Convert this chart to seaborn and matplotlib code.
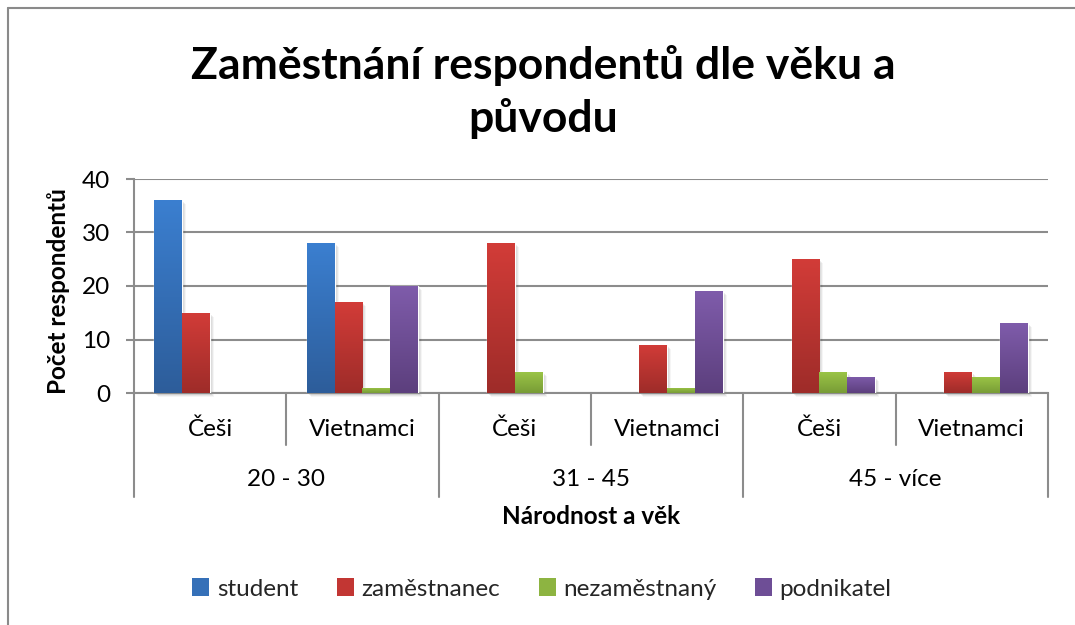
import numpy as np
import pandas as pd
import matplotlib
matplotlib.use("Agg")
import matplotlib.pyplot as plt
import seaborn as sns
import matplotlib.transforms as mtransforms
from matplotlib.patches import Patch, Rectangle
from matplotlib.lines import Line2D
from matplotlib.colors import LinearSegmentedColormap

# ---------------- data ----------------
age_groups = ["20 - 30", "31 - 45", "45 - více"]
nationalities = ["Češi", "Vietnamci"]
series = ["student", "zaměstnanec", "nezaměstnaný", "podnikatel"]
student = [36, 28, 0, 0, 0, 0]
zamestnanec = [15, 17, 28, 9, 25, 4]
nezamestnany = [0, 1, 4, 1, 4, 3]
podnikatel = [0, 20, 0, 19, 3, 13]
y_ticks = [0, 10, 20, 30, 40]

title = "Zaměstnání respondentů dle věku a\npůvodu"
x_title = "Národnost a věk"
y_title = "Počet respondentů"

top_colors = ["#3B7FD0", "#D23C38", "#9CC647", "#7F5CAB"]
bottom_colors = ["#2D5D9A", "#9E2C29", "#789C36", "#5C3F7D"]
legend_colors = ["#3570B8", "#C23633", "#8DB441", "#6E4E96"]

# ---------------- dataframe ----------------
cats = [f"{a}|{n}" for a in age_groups for n in nationalities]
values = {"student": student, "zaměstnanec": zamestnanec,
          "nezaměstnaný": nezamestnany, "podnikatel": podnikatel}
rows = []
for s in series:
    for c, v in zip(cats, values[s]):
        rows.append({"cat": c, "series": s, "value": v})
df = pd.DataFrame(rows)

# ---------------- figure ----------------
sns.set_theme(style="white")
plt.rcParams["font.family"] = ["Lato", "DejaVu Sans"]

W, H = 1075, 625
fig = plt.figure(figsize=(W / 100, H / 100), dpi=100)
ax_left, ax_right, ax_top, ax_bottom = 134, 1048, 179, 393
ax = fig.add_axes([ax_left / W, 1 - ax_bottom / H,
                   (ax_right - ax_left) / W, (ax_bottom - ax_top) / H])

sns.barplot(data=df, x="cat", y="value", hue="series", order=cats,
            hue_order=series, palette=top_colors, width=0.735,
            saturation=1, errorbar=None, legend=False, ax=ax, zorder=3)

# gradient fill + soft shadow
for i, container in enumerate(ax.containers):
    cmap = LinearSegmentedColormap.from_list(f"g{i}", [bottom_colors[i], top_colors[i]])
    for bar in container:
        h = bar.get_height()
        if h <= 0:
            bar.set_visible(False)
            continue
        x0, y0, w = bar.get_x(), bar.get_y(), bar.get_width()
        for k, a in zip([1, 2, 3, 4], [0.10, 0.08, 0.06, 0.04]):
            tr = ax.transData + mtransforms.ScaledTranslation(k / 100, -k / 100, fig.dpi_scale_trans)
            ax.add_patch(Rectangle((x0, y0), w, h, transform=tr, facecolor="#000000",
                                   alpha=a, edgecolor="none", zorder=2, clip_on=False))
        grad = np.linspace(0, 1, 256).reshape(-1, 1)
        im = ax.imshow(grad, extent=[x0, x0 + w, y0, y0 + h], origin="lower",
                       cmap=cmap, aspect="auto", zorder=3.5, interpolation="bilinear")
        im.set_clip_path(bar)

ax.set_xlim(-0.5, len(cats) - 0.5)
ax.set_ylim(0, 40)
ax.set_yticks(y_ticks)
ax.set_xticks([])
ax.set_xlabel("")
ax.set_ylabel("")

grid_color = "#8C8C8C"
ax.yaxis.grid(True, color=grid_color, linewidth=1.5)
ax.set_axisbelow(True)
for side in ["top", "right"]:
    ax.spines[side].set_visible(False)
for side in ["left", "bottom"]:
    ax.spines[side].set_color(grid_color)
    ax.spines[side].set_linewidth(1.5)
ax.tick_params(axis="y", direction="out", length=6, width=1.5, color=grid_color,
               labelsize=17.5, labelcolor="black", pad=11, left=True)

# multi-level category axis
blend = mtransforms.blended_transform_factory(ax.transData, ax.transAxes)
ax_h = ax_bottom - ax_top
lvl1 = -(445 - ax_bottom) / ax_h
lvl2 = -(497 - ax_bottom) / ax_h
n = len(cats)
for b in range(n + 1):
    xb = b - 0.5
    y_end = lvl2 if b % len(nationalities) == 0 else lvl1
    ax.add_line(Line2D([xb, xb], [0, y_end], transform=blend, color=grid_color,
                       linewidth=1.5, clip_on=False))
for i, c in enumerate(cats):
    nat = c.split("|")[1]
    ax.text(i, -(429 - ax_bottom) / ax_h, nat, transform=blend, ha="center",
            va="center", fontsize=17.5, color="black")
for g, a in enumerate(age_groups):
    xc = g * len(nationalities) + (len(nationalities) - 1) / 2
    ax.text(xc, -(479 - ax_bottom) / ax_h, a, transform=blend, ha="center",
            va="center", fontsize=17.5, color="black")

fig.text(591 / W, 1 - 517 / H, x_title, ha="center", va="center",
         fontsize=17.5, fontweight="bold", color="black")
fig.text(59 / W, 1 - 291 / H, y_title, ha="center", va="center", rotation=90,
         fontsize=17.5, fontweight="bold", color="black")
fig.text(543 / W, 1 - 92 / H, title, ha="center", va="center", fontsize=32,
         fontweight="bold", color="black", linespacing=1.35)

# legend
handles = [Patch(facecolor=c, edgecolor="none") for c in legend_colors]
fig.legend(handles, series, loc="center", bbox_to_anchor=(542 / W, 1 - 589 / H),
           ncol=4, frameon=False, fontsize=17.5, handlelength=0.7, handleheight=0.7,
           handletextpad=0.3, columnspacing=1.6)

# chart area border (top and left visible)
fig.add_artist(Line2D([8 / W, 8 / W], [0, 1 - 8 / H], transform=fig.transFigure,
                      color="#8A8A8A", linewidth=1.5))
fig.add_artist(Line2D([8 / W, 1], [1 - 8 / H, 1 - 8 / H], transform=fig.transFigure,
                      color="#8A8A8A", linewidth=1.5))

fig.savefig("out.png", dpi=100)
